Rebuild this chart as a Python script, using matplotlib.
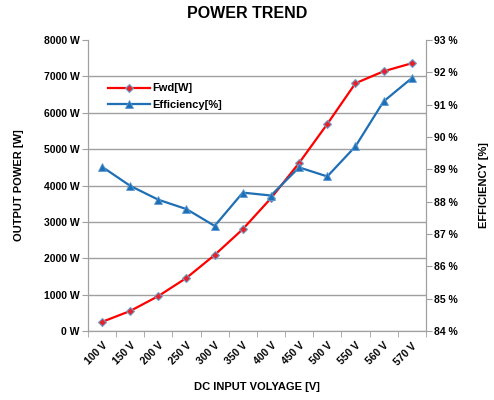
import numpy as np
import matplotlib.pyplot as plt
from matplotlib.ticker import FuncFormatter

plt.rcParams.update({
    "font.family": ["Liberation Sans", "DejaVu Sans"],
    "font.size": 7.5,
    "font.weight": "bold",
    "axes.labelweight": "bold",
})

voltages = ['100 V', '150 V', '200 V', '250 V', '300 V', '350 V',
            '400 V', '450 V', '500 V', '550 V', '560 V', '570 V']
fwd_power = [250, 550, 960, 1460, 2090, 2800, 3650, 4620, 5690, 6810, 7140, 7360]
efficiency = [89.08, 88.49, 88.06, 87.77, 87.25, 88.28, 88.19, 89.06, 88.78, 89.71, 91.1, 91.82]

x = np.arange(len(voltages))

fig = plt.figure(figsize=(4.94, 4.0), dpi=100)
ax = fig.add_axes([0.178, 0.1725, 0.684, 0.7275])
ax2 = ax.twinx()

ax.set_xlim(-0.5, len(voltages) - 0.5)
ax.set_ylim(0, 8000)
ax2.set_ylim(84, 93)

ax.set_yticks(np.arange(0, 8001, 1000))
ax.yaxis.set_major_formatter(FuncFormatter(lambda v, p: f'{int(v)} W'))
ax2.set_yticks(np.arange(84, 94, 1))
ax2.yaxis.set_major_formatter(FuncFormatter(lambda v, p: f'{int(v)} %'))

ax.grid(axis='y', color='#a0a0a0', linewidth=1.0)
ax.set_axisbelow(True)
ax.get_ygridlines()[-1].set_visible(False)

ax.set_xticks(x)
ax.set_xticklabels(voltages, rotation=45, ha='right', rotation_mode='anchor')
ax.set_xticks(np.arange(-0.5, len(voltages)), minor=True)
ax.tick_params(axis='x', which='major', length=0, pad=7)
ax.tick_params(axis='x', which='minor', length=4, color='#a0a0a0')
ax.tick_params(axis='y', length=4, color='#a0a0a0', pad=2)
ax2.tick_params(axis='y', length=4, color='#a0a0a0', pad=2)

for a in (ax, ax2):
    a.spines['top'].set_visible(False)
    for s in ('left', 'right', 'bottom'):
        a.spines[s].set_color('#a0a0a0')

l1, = ax.plot(x, fwd_power, color='#ff0000', linewidth=1.6, marker='D',
              markersize=4.5, markerfacecolor='#e8202a', markeredgecolor='#6fa0c8',
              markeredgewidth=0.8, label='Fwd[W]', zorder=3)
l2, = ax2.plot(x, efficiency, color='#1f6fb4', linewidth=1.6, marker='^',
               markersize=5.5, markerfacecolor='#1f6fb4', markeredgecolor='#5b9bd5',
               markeredgewidth=0.6, label='Efficiency[%]', zorder=3)

ax.legend([l1, l2], ['Fwd[W]', 'Efficiency[%]'], loc='upper left',
          bbox_to_anchor=(0.03, 0.885), frameon=False, fontsize=8,
          handlelength=3.8, handletextpad=0.2, labelspacing=0.55)

ax.set_xlabel('DC INPUT VOLYAGE [V]', fontsize=8, labelpad=11)
ax.set_ylabel('OUTPUT POWER [W]', fontsize=8, labelpad=14)
ax2.set_ylabel('EFFICIENCY [%]', fontsize=8, labelpad=15)
fig.suptitle('POWER TREND', fontsize=11.5, fontweight='bold', y=0.985)

fig.savefig('out.png', dpi=100)
